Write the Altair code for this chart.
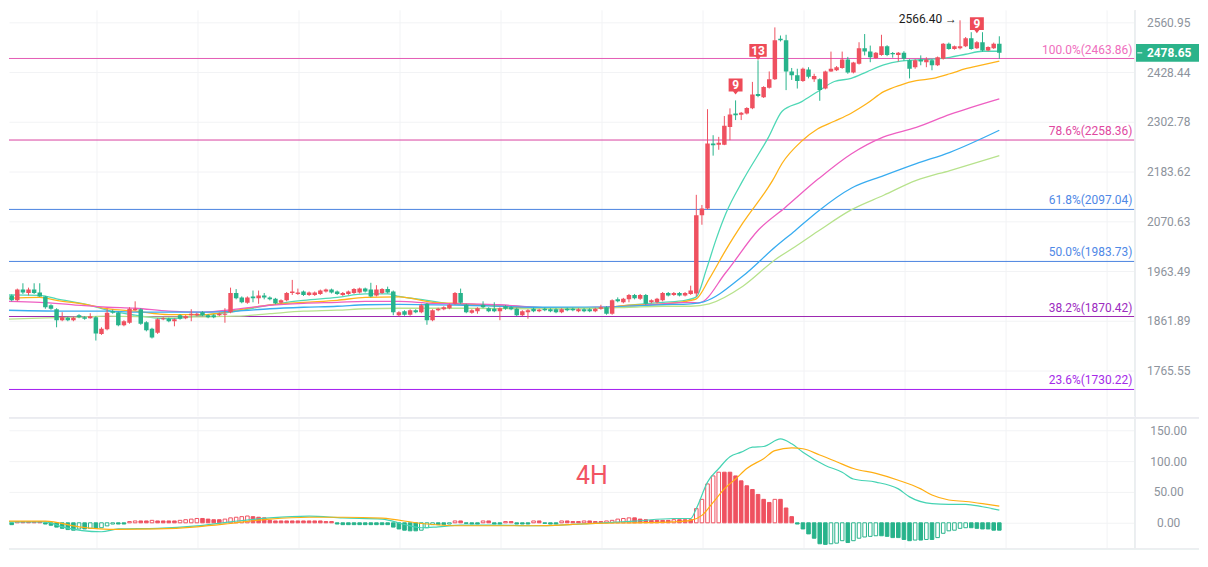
import altair as alt
import numpy as np
import pandas as pd

# ---------------- data ----------------
opens = [
    1916, 1913, 1903, 1925, 1918, 1925, 1919, 1911, 1893, 1885,
    1863, 1868, 1863, 1873, 1869, 1867, 1869, 1836, 1845, 1881,
    1878, 1853, 1858, 1883, 1885, 1859, 1846, 1838, 1865, 1866,
    1861, 1873, 1867, 1873, 1873, 1879, 1873, 1873, 1873, 1874,
    1879, 1918, 1909, 1898, 1911, 1907, 1913, 1909, 1906, 1898,
    1903, 1918, 1916, 1921, 1914, 1914, 1916, 1921, 1925, 1921,
    1914, 1916, 1918, 1919, 1927, 1925, 1913, 1918, 1926, 1921, 1873,
    1881, 1874, 1883, 1879, 1896, 1863, 1883, 1885, 1887, 1896,
    1918, 1894, 1878, 1881, 1894, 1887, 1886, 1881, 1891, 1889,
    1886, 1873, 1879, 1886, 1881, 1886, 1885, 1885, 1879, 1886,
    1886, 1881, 1885, 1885, 1881, 1886, 1889, 1876, 1905, 1899,
    1905, 1914, 1906, 1914, 1899, 1899, 1903, 1918, 1914, 1918, 1913, 1916,
    1917, 2084, 2099, 2250, 2247, 2247, 2290, 2323, 2320, 2323,
    2336, 2372, 2364, 2388, 2410, 2516, 2512, 2430, 2420, 2405,
    2435, 2410, 2410, 2386, 2430, 2433, 2439, 2461, 2427, 2450,
    2491, 2482, 2465, 2473, 2496, 2478, 2473, 2479, 2459, 2441,
    2461, 2454, 2459, 2446, 2463, 2503, 2489, 2491, 2496, 2518,
    2491, 2507, 2485, 2491, 2503,
]
highs = [
    1918, 1915, 1927, 1938, 1929, 1938, 1938, 1912, 1895, 1887,
    1879, 1870, 1870, 1875, 1871, 1877, 1871, 1849, 1886, 1884,
    1880, 1863, 1889, 1901, 1887, 1861, 1848, 1867, 1869, 1868,
    1867, 1875, 1873, 1885, 1878, 1881, 1875, 1875, 1878, 1887,
    1929, 1926, 1911, 1911, 1923, 1923, 1918, 1911, 1908, 1905,
    1920, 1945, 1927, 1923, 1921, 1921, 1925, 1927, 1927, 1923,
    1920, 1923, 1928, 1929, 1929, 1939, 1934, 1928, 1931, 1923, 1881,
    1883, 1885, 1885, 1896, 1898, 1885, 1888, 1891, 1896, 1920,
    1927, 1896, 1885, 1889, 1901, 1889, 1899, 1889, 1893, 1891,
    1888, 1883, 1885, 1888, 1886, 1888, 1887, 1887, 1887, 1888,
    1888, 1887, 1887, 1887, 1888, 1894, 1891, 1905, 1909, 1908,
    1916, 1916, 1916, 1916, 1905, 1908, 1920, 1920, 1920, 1920, 1920, 1933,
    2130, 2107, 2334, 2270, 2266, 2317, 2336, 2356, 2327, 2339,
    2403, 2459, 2392, 2430, 2547, 2525, 2527, 2439, 2437, 2440,
    2441, 2424, 2412, 2432, 2482, 2444, 2482, 2468, 2455, 2507,
    2529, 2498, 2481, 2527, 2499, 2481, 2481, 2483, 2462, 2462,
    2472, 2467, 2462, 2469, 2505, 2506, 2498, 2566.4, 2521, 2534,
    2510, 2534, 2496, 2506, 2523,
]
lows = [
    1909, 1901, 1901, 1916, 1913, 1916, 1910, 1886, 1884, 1849,
    1861, 1861, 1861, 1867, 1864, 1866, 1823, 1834, 1843, 1876,
    1851, 1851, 1856, 1882, 1854, 1841, 1827, 1836, 1863, 1859,
    1851, 1864, 1865, 1861, 1871, 1871, 1867, 1867, 1871, 1858,
    1877, 1905, 1897, 1896, 1899, 1896, 1905, 1903, 1895, 1896,
    1901, 1914, 1914, 1912, 1912, 1912, 1914, 1919, 1917, 1914,
    1912, 1914, 1916, 1917, 1919, 1909, 1911, 1916, 1917, 1873, 1871,
    1872, 1872, 1877, 1877, 1854, 1861, 1881, 1883, 1885, 1894,
    1896, 1877, 1876, 1876, 1887, 1879, 1879, 1863, 1884, 1883,
    1871, 1871, 1866, 1879, 1879, 1881, 1879, 1877, 1877, 1881,
    1881, 1879, 1879, 1879, 1879, 1884, 1874, 1874, 1899, 1897,
    1899, 1905, 1904, 1894, 1897, 1897, 1901, 1911, 1912, 1911, 1911, 1914,
    1911, 2063, 2097, 2221, 2235, 2246, 2258, 2307, 2307, 2321,
    2334, 2364, 2362, 2386, 2408, 2509, 2382, 2408, 2386, 2403,
    2412, 2403, 2355, 2384, 2429, 2431, 2437, 2424, 2425, 2448,
    2472, 2454, 2463, 2471, 2470, 2466, 2456, 2458, 2412, 2437,
    2446, 2441, 2433, 2444, 2461, 2487, 2487, 2488, 2494, 2487,
    2489, 2482, 2483, 2489, 2463,
]
closes = [
    1911, 1903, 1925, 1919, 1925, 1918, 1911, 1889, 1886, 1863,
    1869, 1863, 1868, 1869, 1866, 1871, 1837, 1846, 1878, 1878,
    1853, 1861, 1886, 1886, 1856, 1843, 1829, 1865, 1867, 1861,
    1865, 1866, 1871, 1876, 1876, 1873, 1869, 1869, 1876, 1876,
    1918, 1907, 1899, 1909, 1907, 1913, 1909, 1905, 1897, 1903,
    1918, 1921, 1919, 1914, 1919, 1919, 1923, 1925, 1919, 1916,
    1918, 1921, 1926, 1927, 1921, 1911, 1925, 1926, 1919, 1879, 1879,
    1874, 1883, 1879, 1893, 1863, 1883, 1886, 1889, 1894, 1918,
    1898, 1879, 1883, 1887, 1889, 1881, 1881, 1887, 1886, 1885,
    1873, 1881, 1883, 1881, 1884, 1883, 1881, 1879, 1885, 1883,
    1883, 1885, 1881, 1881, 1886, 1889, 1876, 1903, 1901, 1906,
    1914, 1907, 1914, 1896, 1903, 1906, 1918, 1913, 1918, 1913, 1918, 1923,
    2084, 2099, 2250, 2246, 2252, 2293, 2321, 2319, 2325, 2337,
    2371, 2367, 2390, 2410, 2512, 2512, 2430, 2420, 2405, 2437,
    2416, 2418, 2382, 2430, 2437, 2441, 2461, 2427, 2453, 2491,
    2482, 2467, 2479, 2496, 2473, 2475, 2479, 2463, 2437, 2459,
    2456, 2461, 2446, 2467, 2503, 2489, 2496, 2496, 2518, 2489,
    2507, 2485, 2494, 2503, 2478.65,
]

# moving averages (sampled along each line)
ma1_idx = [0, 6, 9, 15, 18, 23, 29, 35, 40, 44, 50, 53, 59, 64, 68, 70, 75, 79, 82, 88,
           94, 100, 105, 111, 117, 121, 123, 124.8, 126.5, 128.3, 131.3, 135.9, 138.3, 141.8,
           144.6, 147.6, 150.6, 153.4, 156.4, 159.4, 162.2, 165.2, 168.2, 171, 174, 177]
ma1_val = [1914, 1913, 1906, 1893, 1883, 1873, 1866, 1873, 1879, 1887, 1899, 1903, 1909, 1916,
           1916, 1911, 1903, 1896, 1894, 1893, 1889, 1886, 1887, 1893, 1899, 1903, 1910, 1967,
           2030, 2089, 2163, 2266, 2329, 2353, 2378, 2404, 2412, 2429, 2447, 2457, 2460, 2462,
           2467, 2475, 2483, 2483]
ma2_idx = [0, 6, 9, 15, 18, 23, 29, 35, 41, 47, 53, 59, 64, 70, 76, 82, 88, 94, 100, 105,
           111, 117, 122, 123, 125.3, 128.3, 131.3, 136.6, 138.3, 141.8, 144.6, 147.6, 150.6,
           153.4, 156.4, 159.4, 162.2, 165.2, 168.2, 171, 174, 177]
ma2_val = [1907, 1909, 1903, 1893, 1886, 1881, 1874, 1874, 1883, 1894, 1899, 1903, 1909, 1910,
           1899, 1896, 1891, 1887, 1887, 1887, 1893, 1896, 1903, 1906, 1947, 2009, 2067, 2163,
           2203, 2256, 2285, 2304, 2324, 2348, 2378, 2395, 2406, 2412, 2424, 2437, 2447, 2457]
ma3_idx = [0, 6, 12, 18, 23, 29, 35, 41, 47, 53, 59, 64, 70, 76, 82, 88, 94, 100, 105, 111,
           117, 122, 123.5, 128.3, 134.1, 138.8, 144.7, 150.6, 156.4, 162.2, 168.2, 177]
ma3_val = [1901, 1899, 1894, 1889, 1887, 1881, 1879, 1885, 1893, 1897, 1899, 1901, 1901, 1897,
           1896, 1894, 1889, 1887, 1889, 1891, 1896, 1899, 1898, 1961, 2052, 2101, 2166, 2225,
           2266, 2289, 2321, 2360]
ma4_idx = [0, 12, 18, 23, 29, 35, 41, 47, 53, 59, 64, 70, 82, 94, 105, 111, 117, 122, 124.3,
           131.3, 137.1, 140.6, 144.6, 150.6, 156.4, 162.2, 168.2, 177]
ma4_val = [1883, 1881, 1881, 1879, 1879, 1879, 1881, 1886, 1889, 1891, 1894, 1895, 1893, 1889,
           1889, 1891, 1894, 1896, 1900, 1953, 2015, 2050, 2092, 2145, 2174, 2202, 2229, 2282]
ma5_idx = [0, 6, 12, 18, 29, 41, 47, 53, 59, 64, 70, 82, 94, 105, 111, 117, 122, 125.3, 131.3,
           137.1, 140.6, 144.6, 150.6, 156.4, 162.2, 168.2, 177]
ma5_val = [1865, 1867, 1869, 1871, 1869, 1871, 1876, 1881, 1883, 1886, 1887, 1887, 1886, 1887,
           1889, 1891, 1891, 1896, 1932, 1988, 2015, 2048, 2096, 2129, 2163, 2186, 2221]

fib_pct = ["100.0%", "78.6%", "61.8%", "50.0%", "38.2%", "23.6%"]
fib_values = [2463.86, 2258.36, 2097.04, 1983.73, 1870.42, 1730.22]
price_ticks = [2560.95, 2428.44, 2302.78, 2183.62, 2070.63, 1963.49, 1861.89, 1765.55]

macd_hist = [
    -3, -3,
    2, 2, 2, 2, 2,
    -2, -4, -7, -9, -11, -12,
    -10, -10, -9, -9, -8,
    -5, -2, -2, -2,
    2, 3, 3, 3, 4, 3, 3, 3, 3, 4,
    5, 6, 7, 7, 6, 5, 5, 6,
    8, 9, 10, 11, 10, 9, 8,
    4, 3, 3, 3, 3, 3, 3, 3, 3, 3, 2, 2,
    -2, -3, -3, -3, -3, -3, -3, -3, -3, -3,
    -7, -10, -12, -13, -13, -12, -8,
    -3, -3, -3, -2,
    3, 3, -1, -2, -2, 3, 3, -2, -2, 2, 2, -2, -2, -2, 3, 3, -1, -2, -2, 3, 3, 2, 2, 3, 3,
    2, 2, 3, 4, 6, 7, 8, 8, 6, 5, 4, 4, 4, 4, 5, 5, 5, 5,
    23, 38, 63, 76, 82, 82, 82, 76, 68, 60, 54, 46, 38, 33, 38, 38, 24, 10, -2,
    -10, -18, -25, -34, -35, -34, -33, -29, -32, -29, -25, -23, -22, -21, -21, -22, -24, -24,
    -27, -29, -28, -28, -27, -27, -24, -17, -13, -12, -9, -8, -8, -9, -10, -10, -12, -12,
]
dif_idx = [0, 7, 10, 17, 20, 27, 34, 40, 47, 54, 60, 67, 71, 74, 77, 81, 87, 94, 101, 105,
           112, 119, 122, 123, 125, 127, 129, 131, 133, 135, 138, 140, 142, 146, 149, 151, 155,
           159, 161, 165, 168, 171, 174, 177]
dif_val = [1.6, 1.6, -6.5, -14.5, -10, -9, -5, 1.6, 8, 10.8, 8, 6, -2.7, -8, -6.5, -3.8, -3.8,
           -4.8, -2.7, -1, 2.7, 7, 7, 23, 66, 88, 107, 114.5, 122.6, 123.7, 136, 128, 114.5,
           93, 82, 71, 66, 55, 42, 31, 30, 30, 26, 20.6]
dea_idx = [0, 7, 13, 20, 27, 34, 40, 47, 54, 60, 67, 74, 81, 87, 94, 101, 105, 112, 119, 122,
           124, 126, 128, 130, 132, 135, 137, 140, 142, 145, 148, 151, 155, 159, 163, 165, 168,
           171, 174, 177]
dea_val = [2.7, 2.7, -6.5, -10.8, -10, -6.5, -1.1, 6, 9, 9, 7.5, -1.1, -4.8, -4.8, -4.8, -2.7,
           -1, 0, 1.6, 4, 12, 33, 55, 71, 88, 104, 117, 121.5, 120, 110, 99, 88, 80, 69, 55,
           45, 37, 34.5, 31, 27]
macd_ticks = [0, 50, 100, 150]
grid_idx = [16.2, 34.2, 52.2, 70.2, 88.2, 106.2, 124.2, 142.2, 160.2, 178.2, 196.2]

marker_idx = [130, 134, 173]
marker_pos = [2394, 2484, 2556]
marker_txt = ["9", "13", "9"]
peak_idx = [170]
peak_val = [2566.40]
last_price = [2478.65]
tf_label = ["4H"]
tf_idx = [104.4]
tf_val = [75.8]

# ---------------- styling ----------------
RED = "#ef5160"
GREEN = "#27b38b"
MA_COLORS = ["#4fd8b6", "#ffb31a", "#ee5fc2", "#38acf0", "#b7e28c"]
FIB_LINE = ["#e45bb4", "#d9419f", "#4a82e0", "#4a82e0", "#9c27b0", "#a21cf0"]
FIB_TEXT = ["#ef6dbd", "#e0489f", "#4f88e6", "#4f88e6", "#9c2bbf", "#a52be8"]
AXIS_COL = "#8d939c"
GRID_COL = "#f2f3f5"
FONT = "Roboto"

W, H1, H2 = 1132, 408, 131
x_scale = alt.Scale(domain=[1.406, 200.35], nice=False, zero=False)
yp = alt.Scale(type="log", domain=[1681.3, 2593.8], nice=False, zero=False)
ym = alt.Scale(domain=[-41.9, 169.4], nice=False, zero=False)


def X(f):
    return alt.X(f, type="quantitative", scale=x_scale, axis=None)


def axis_right(values):
    return alt.Axis(orient="right", values=values, format=".2f", grid=True, gridColor=GRID_COL,
                    domain=False, ticks=False, labelColor=AXIS_COL, labelFont=FONT,
                    labelFontSize=12, labelAlign="center", labelPadding=33,
                    labelOverlap=False, title=None)


AX_P = axis_right(price_ticks)
AX_M = axis_right(macd_ticks)


def YP(f):
    return alt.Y(f, type="quantitative", scale=yp, axis=AX_P, title=None)


def YM(f):
    return alt.Y(f, type="quantitative", scale=ym, axis=AX_M, title=None)


# ---------------- data frames ----------------
n = len(closes)
cdf = pd.DataFrame({"idx": np.arange(n), "o": opens, "h": highs, "l": lows, "c": closes})
cdf["col"] = np.where(cdf["c"] >= cdf["o"], RED, GREEN)

ma_frames = []
for k, (ix, vv) in enumerate([(ma1_idx, ma1_val), (ma2_idx, ma2_val), (ma3_idx, ma3_val),
                              (ma4_idx, ma4_val), (ma5_idx, ma5_val)]):
    ma_frames.append(pd.DataFrame({"idx": ix, "v": vv, "ma": f"MA{k}", "col": MA_COLORS[k]}))
madf = pd.concat(ma_frames, ignore_index=True)

fdf = pd.DataFrame({"v": fib_values, "lc": FIB_LINE, "tc": FIB_TEXT,
                    "lab": [f"{p}({v:.2f})" for p, v in zip(fib_pct, fib_values)]})
gdf = pd.DataFrame({"g": grid_idx})
mdf = pd.DataFrame({"idx": marker_idx, "p": marker_pos, "t": marker_txt})
pkdf = pd.DataFrame({"idx": peak_idx, "p": peak_val,
                     "t": [f"{v:.2f} \u2192" for v in peak_val]})
tagdf = pd.DataFrame({"p": last_price, "t": [f"{v:.2f}" for v in last_price]})

hdf = pd.DataFrame({"idx": np.arange(n), "h": macd_hist})
prev = hdf["h"].shift(1).fillna(0)
hdf["col"] = np.where(hdf["h"] >= 0, RED, GREEN)
hdf["fillc"] = np.where(hdf["h"] > prev, "#ffffff", hdf["col"])
ldf = pd.concat([
    pd.DataFrame({"idx": dif_idx, "v": dif_val, "s": "DIF", "col": "#45d3b3"}),
    pd.DataFrame({"idx": dea_idx, "v": dea_val, "s": "DEA", "col": "#ffae12"}),
], ignore_index=True)
tfdf = pd.DataFrame({"idx": tf_idx, "v": tf_val, "t": tf_label})

# ---------------- price panel ----------------
vgrid = alt.Chart(gdf).mark_rule(color=GRID_COL, strokeWidth=1).encode(x=X("g"))
fib_rule = alt.Chart(fdf).mark_rule(strokeWidth=1).encode(
    y=YP("v"), color=alt.Color("lc:N", scale=None))
ma_lines = alt.Chart(madf).mark_line(strokeWidth=1.3, clip=True, interpolate="monotone").encode(
    x=X("idx"), y=YP("v"),
    color=alt.Color("col:N", scale=None), detail="ma:N", order="idx:Q")
wicks = alt.Chart(cdf).mark_rule(strokeWidth=1, clip=True).encode(
    x=X("idx"), y=YP("l"), y2="h:Q",
    color=alt.Color("col:N", scale=None))
bodies = alt.Chart(cdf).mark_bar(size=4.5, clip=True).encode(
    x=X("idx"), y=YP("o"), y2="c:Q",
    color=alt.Color("col:N", scale=None))
fib_text = alt.Chart(fdf).mark_text(align="right", baseline="middle", dy=-9, fontSize=12,
                                    font=FONT).encode(
    x=alt.value(W - 3), y=YP("v"), text="lab:N",
    color=alt.Color("tc:N", scale=None))

path9 = "M-1,-1H1V0.86H0.35L0,1.3L-0.35,0.86H-1Z"
path13 = "M-1.25,-1H1.25V0.86H0.35L0,1.3L-0.35,0.86H-1.25Z"
mk9 = alt.Chart(mdf).transform_filter("datum.t == '9'").mark_point(
    shape=path9, size=196, filled=True, opacity=1, color="#ee4b58").encode(
    x=X("idx"), y=YP("p"))
mk13 = alt.Chart(mdf).transform_filter("datum.t == '13'").mark_point(
    shape=path13, size=196, filled=True, opacity=1, color="#ee4b58").encode(
    x=X("idx"), y=YP("p"))
mk_text = alt.Chart(mdf).mark_text(color="white", fontSize=12, fontWeight="bold", font=FONT,
                                   baseline="middle", dy=0).encode(
    x=X("idx"), y=YP("p"), text="t:N")
peak = alt.Chart(pkdf).mark_text(align="right", baseline="middle", dx=-3, dy=-1, fontSize=12,
                                 font=FONT, color="#1b1b1b").encode(
    x=X("idx"), y=YP("p"), text="t:N")
tag_path = "M-1,-0.28H1V0.28H-1Z"
tag = alt.Chart(tagdf).mark_point(shape=tag_path, size=4096, filled=True, opacity=1,
                                  color="#2bb38a").encode(
    x=alt.value(W + 32), y=YP("p"))
tag_text = alt.Chart(tagdf).mark_text(color="white", fontWeight="bold", fontSize=12, font=FONT,
                                      baseline="middle").encode(
    x=alt.value(W + 34), y=YP("p"), text="t:N")
tag_dash = alt.Chart(tagdf).mark_rule(color="white", strokeWidth=1).encode(
    x=alt.value(W + 2), x2=alt.value(W + 7), y=YP("p"))
border1 = alt.Chart(gdf).mark_rule(color="#eceef1").encode(
    x=alt.value(W), y=alt.value(0), y2=alt.value(H1))

price = alt.layer(vgrid, fib_rule, ma_lines, wicks, bodies, fib_text, mk9, mk13, mk_text,
                  peak, tag, tag_text, tag_dash, border1).properties(width=W, height=H1)

# ---------------- MACD panel ----------------
vgrid2 = alt.Chart(gdf).mark_rule(color=GRID_COL, strokeWidth=1).encode(x=X("g"))
hist = alt.Chart(hdf).mark_bar(size=3.6, clip=True, strokeWidth=1).encode(
    x=X("idx"), y=YM("h"), y2=alt.datum(0),
    fill=alt.Fill("fillc:N", scale=None), stroke=alt.Stroke("col:N", scale=None))
macd_lines = alt.Chart(ldf).mark_line(strokeWidth=1.2, clip=True, interpolate="monotone").encode(
    x=X("idx"), y=YM("v"),
    color=alt.Color("col:N", scale=None), detail="s:N", order="idx:Q")
tf = alt.Chart(tfdf).mark_text(fontSize=25, color="#f25462", font=FONT, baseline="middle").encode(
    x=X("idx"), y=YM("v"), text="t:N")
sep_top = alt.Chart(gdf).mark_rule(color="#eceef1").encode(
    x=alt.value(0), x2=alt.value(W + 64), y=alt.value(0))
sep_bot = alt.Chart(gdf).mark_rule(color="#eceef1").encode(
    x=alt.value(0), x2=alt.value(W + 64), y=alt.value(H2))
border2 = alt.Chart(gdf).mark_rule(color="#eceef1").encode(
    x=alt.value(W), y=alt.value(0), y2=alt.value(H2))

macd = alt.layer(vgrid2, hist, macd_lines, tf, sep_top, sep_bot, border2).properties(
    width=W, height=H2)

chart = alt.vconcat(price, macd, spacing=0, padding=0).configure_view(stroke=None)
chart.save("out.html", embed_options={"renderer": "svg", "actions": False})
